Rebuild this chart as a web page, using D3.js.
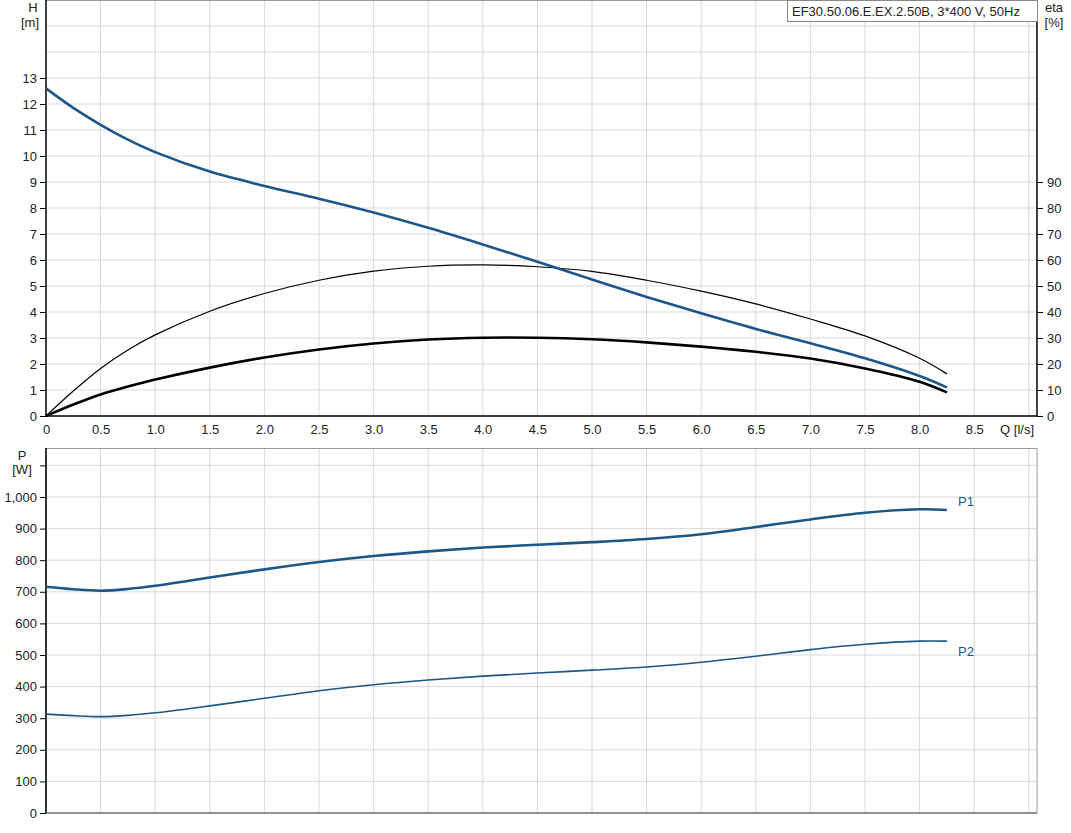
<!DOCTYPE html>
<html><head><meta charset="utf-8">
<script src="https://cdn.jsdelivr.net/npm/d3@7"></script>
<style>
body{margin:0;background:#fff;}
svg text{font-family:"Liberation Sans",Arial,sans-serif;font-size:13px;fill:#222;}
</style></head>
<body><svg id="c" width="1071" height="833"></svg>
<script>
// ---- data ----
const q = [0,0.25,0.5,0.75,1.0,1.5,2.0,2.5,3.0,3.5,4.0,4.5,5.0,5.5,6.0,6.5,7.0,7.5,8.0,8.25];
const head = [12.6,11.85,11.2,10.63,10.15,9.4,8.85,8.36,7.83,7.24,6.6,5.93,5.25,4.58,3.95,3.35,2.8,2.22,1.54,1.10];
const etaPump = [0,9.6,18.3,25.4,31.2,40.3,47.1,52.2,55.7,57.6,58.1,57.4,55.6,52.2,48.0,43.1,37.3,30.8,22.2,16.2];
const etaTotal = [0,4.4,8.3,11.3,14.0,18.6,22.5,25.6,27.9,29.4,30.1,30.1,29.5,28.3,26.7,24.7,22.1,18.3,13.2,9.1];
const p1 = [716,708,703.5,709,719,745,771,794,813,828,840,849,857,867,882,905,929,950,961,959];
const p2 = [313,308,305,309,317,339,363,387,406,421,433,443,452,462,477,496,517,534,544,544];
const xTicks = [0,0.5,1.0,1.5,2.0,2.5,3.0,3.5,4.0,4.5,5.0,5.5,6.0,6.5,7.0,7.5,8.0,8.5];
const xGrid = [0.5,1,1.5,2,2.5,3,3.5,4,4.5,5,5.5,6,6.5,7,7.5,8,8.5,9];
const hTicks = [0,1,2,3,4,5,6,7,8,9,10,11,12,13];
const hGrid = [1,2,3,4,5,6,7,8,9,10,11,12,13,14,15];
const etaTicks = [0,10,20,30,40,50,60,70,80,90];
const pTicks = [0,100,200,300,400,500,600,700,800,900,1000];
const pGrid = [100,200,300,400,500,600,700,800,900,1000,1100];
const title = "EF30.50.06.E.EX.2.50B, 3*400 V, 50Hz";

const svg = d3.select("#c");
const L = 46, R = 1037;
const x = d3.scaleLinear().domain([0, 9.075]).range([L, R]);
const yH = d3.scaleLinear().domain([0, 16]).range([416, 0]);
const yE = d3.scaleLinear().domain([0, 160]).range([416, 0]);
const yP = d3.scaleLinear().domain([0, 1155]).range([813, 448]);
const blue = "#1d5689";
const grid = "#d9d9d9";

// ---- top panel ----
const gTop = svg.append("g");
gTop.selectAll(".vg").data(xGrid).join("line")
  .attr("x1", d => x(d)).attr("x2", d => x(d)).attr("y1", 0).attr("y2", 416)
  .attr("stroke", grid).attr("stroke-width", 1);
gTop.selectAll(".hg").data(hGrid).join("line")
  .attr("x1", L).attr("x2", R).attr("y1", d => yH(d)).attr("y2", d => yH(d))
  .attr("stroke", grid).attr("stroke-width", 1);
gTop.append("line").attr("x1", L).attr("x2", R).attr("y1", 0.5).attr("y2", 0.5).attr("stroke", "#999");

// axes
const axH = gTop.append("g").attr("transform", `translate(${L},0)`)
  .call(d3.axisLeft(yH).tickValues(hTicks).tickSize(6).tickPadding(3).tickFormat(d3.format("d")));
const axE = gTop.append("g").attr("transform", `translate(${R},0)`)
  .call(d3.axisRight(yE).tickValues(etaTicks).tickSize(6).tickPadding(4).tickFormat(d3.format("d")));
const axQ = gTop.append("g").attr("transform", `translate(0,416)`)
  .call(d3.axisBottom(x).tickValues(xTicks).tickSize(0).tickPadding(9)
    .tickFormat(d => d === 0 ? "0" : d3.format(".1f")(d)));
[axH, axE, axQ].forEach(a => {
  a.selectAll("text").style("font-size", "13px").attr("fill", "#222");
  a.selectAll("line").attr("stroke", "#000");
});
axH.select(".domain").attr("d", `M0,0V416`).attr("stroke", "#000").attr("stroke-width", 1.5);
axE.select(".domain").attr("d", `M0,0V416`).attr("stroke", "#000").attr("stroke-width", 1.5);
axQ.select(".domain").attr("d", `M${L},0H${R}`).attr("stroke", "#000").attr("stroke-width", 1.5);

gTop.append("text").attr("x", 1034).attr("y", 434).attr("text-anchor", "end").text("Q [l/s]");
gTop.append("text").attr("x", 33).attr("y", 12).attr("text-anchor", "middle").text("H");
gTop.append("text").attr("x", 30).attr("y", 27).attr("text-anchor", "middle").text("[m]");
gTop.append("text").attr("x", 1054).attr("y", 12).attr("text-anchor", "middle").text("eta");
gTop.append("text").attr("x", 1054).attr("y", 27).attr("text-anchor", "middle").text("[%]");

// title box
gTop.append("rect").attr("x", 787.5).attr("y", 0.5).attr("width", 250).attr("height", 21)
  .attr("fill", "#fff").attr("stroke", "#888");
gTop.append("text").attr("x", 792).attr("y", 16).text(title);

const curve = d3.curveCatmullRom.alpha(0.5);
const lineH = d3.line().x((d, i) => x(q[i])).y(d => yH(d)).curve(curve);
const lineE = d3.line().x((d, i) => x(q[i])).y(d => yE(d)).curve(curve);
gTop.append("path").attr("d", lineE(etaPump)).attr("fill", "none").attr("stroke", "#000").attr("stroke-width", 1.2);
gTop.append("path").attr("d", lineE(etaTotal)).attr("fill", "none").attr("stroke", "#000").attr("stroke-width", 2.6);
gTop.append("path").attr("d", lineH(head)).attr("fill", "none").attr("stroke", blue).attr("stroke-width", 2.6);

// ---- bottom panel ----
const gBot = svg.append("g");
gBot.selectAll(".vg").data(xGrid).join("line")
  .attr("x1", d => x(d)).attr("x2", d => x(d)).attr("y1", 448).attr("y2", 813)
  .attr("stroke", grid);
gBot.selectAll(".hg").data(pGrid).join("line")
  .attr("x1", L).attr("x2", R).attr("y1", d => yP(d)).attr("y2", d => yP(d))
  .attr("stroke", grid);
gBot.append("rect").attr("x", L).attr("y", 448.5).attr("width", R - L).attr("height", 364.5)
  .attr("fill", "none").attr("stroke", "#999");
const axP = gBot.append("g").attr("transform", `translate(${L},0)`)
  .call(d3.axisLeft(yP).tickValues(pTicks.concat([1100])).tickSize(6).tickPadding(3)
    .tickFormat(d => d === 1100 ? "" : d3.format(",")(d)));
axP.selectAll("text").style("font-size", "13px").attr("fill", "#222");
axP.selectAll("line").attr("stroke", "#000");
axP.select(".domain").attr("d", `M0,448V813`).attr("stroke", "#000").attr("stroke-width", 1.5);
gBot.append("line").attr("x1", L).attr("x2", R).attr("y1", 813).attr("y2", 813).attr("stroke", "#555");
gBot.append("text").attr("x", 22).attr("y", 460).attr("text-anchor", "middle").text("P");
gBot.append("text").attr("x", 22).attr("y", 474).attr("text-anchor", "middle").text("[W]");

const lineP = d3.line().x((d, i) => x(q[i])).y(d => yP(d)).curve(curve);
gBot.append("path").attr("d", lineP(p1)).attr("fill", "none").attr("stroke", blue).attr("stroke-width", 2.6);
gBot.append("path").attr("d", lineP(p2)).attr("fill", "none").attr("stroke", blue).attr("stroke-width", 1.6);
gBot.append("text").attr("x", 958).attr("y", 506).style("fill", blue).text("P1");
gBot.append("text").attr("x", 958).attr("y", 656).style("fill", blue).text("P2");
</script></body></html>
